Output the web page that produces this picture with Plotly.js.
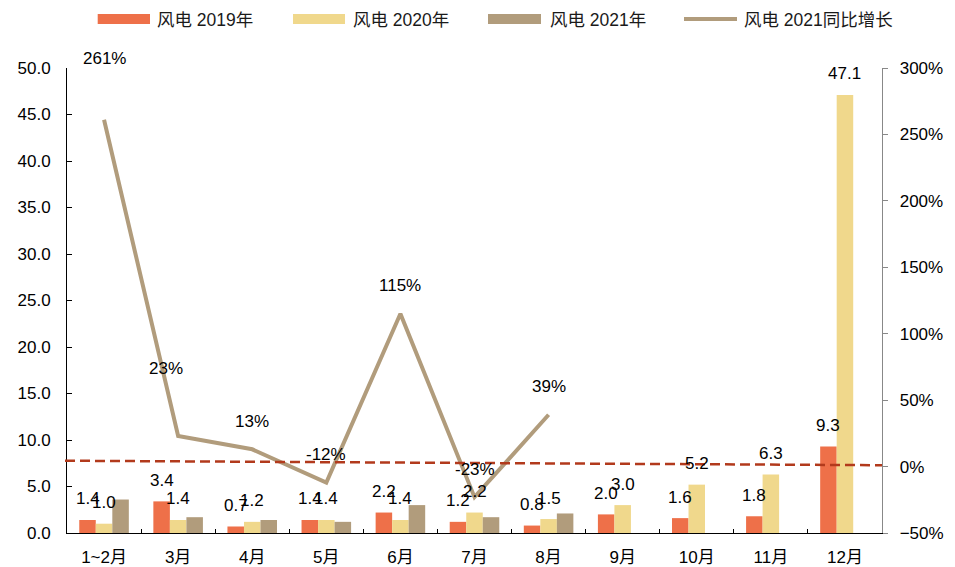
<!DOCTYPE html>
<html>
<head>
<meta charset="utf-8">
<script src="https://cdn.plot.ly/plotly-3.0.1.min.js"></script>
<style>html,body{margin:0;padding:0;background:#fff;}#chart{width:955px;height:567px;}</style>
</head>
<body>
<div id="chart"></div>
<script>
// ---- data ----
const categories = ['1~2月','3月','4月','5月','6月','7月','8月','9月','10月','11月','12月'];
const wind2019 = [1.4, 3.4, 0.7, 1.4, 2.2, 1.2, 0.8, 2.0, 1.6, 1.8, 9.3];
const wind2020 = [1.0, 1.4, 1.2, 1.4, 1.4, 2.2, 1.5, 3.0, 5.2, 6.3, 47.1];
const wind2021 = [3.6, 1.7, 1.4, 1.2, 3.0, 1.7, 2.1, null, null, null, null];
const growth2021 = [261, 23, 13, -12, 115, -23, 39];
const refLinePct = [4.4, 1.0];
const seriesNames = ['风电 2019年', '风电 2020年', '风电 2021年', '风电 2021同比增长'];

// ---- style ----
const FONT = 'Liberation Sans, Arial, "Noto Sans CJK SC", sans-serif';
const colors = ['#EE7049', '#F0D88C', '#B19C7C'];
const lineColor = '#B19C7C';
const W = 955, H = 567, M = {l: 67, r: 73, t: 68, b: 34};
const pw = W - M.l - M.r, ph = H - M.t - M.b;
const px = x => (x - M.l) / pw;
const py = y => (H - M.b - y) / ph;
const barStep = 16.5;

const traces = [
  {type: 'bar', name: seriesNames[0], x: categories, y: wind2019, marker: {color: colors[0]}},
  {type: 'bar', name: seriesNames[1], x: categories, y: wind2020, marker: {color: colors[1]}},
  {type: 'bar', name: seriesNames[2], x: categories, y: wind2021, marker: {color: colors[2]}},
  {type: 'scatter', mode: 'lines', name: seriesNames[3], x: categories.slice(0, growth2021.length),
   y: growth2021, yaxis: 'y2', line: {color: lineColor, width: 4}}
];

const annotations = [];
const labFont = {family: FONT, size: 17, color: '#000'};
[wind2019, wind2020].forEach((arr, si) => {
  arr.forEach((v, i) => {
    if (v == null) return;
    annotations.push({x: categories[i], y: v, xref: 'x', yref: 'y', text: v.toFixed(1),
      showarrow: false, xshift: (si - 1) * barStep, yshift: 21, yanchor: 'middle', font: labFont});
  });
});
const pctNudge = {0: {dx: 0, dy: 61}, 1: {dx: -12, dy: 68}};
growth2021.forEach((v, i) => {
  const n = pctNudge[i] || {dx: 0, dy: 28};
  annotations.push({x: categories[i], y: v, xref: 'x', yref: 'y2', text: v + '%',
    showarrow: false, xshift: n.dx, yshift: n.dy, yanchor: 'middle', font: labFont});
});

// custom legend
const legSw = [[97.7, 150], [293, 345], [488, 541]];
const legTxt = [155, 351, 548, 742];
const shapes = [];
legSw.forEach((s, i) => {
  shapes.push({type: 'rect', xref: 'paper', yref: 'paper', x0: px(s[0]), x1: px(s[1]),
    y0: py(24), y1: py(14), fillcolor: colors[i], line: {width: 0}});
});
shapes.push({type: 'line', xref: 'paper', yref: 'paper', x0: px(684), x1: px(737), y0: py(19), y1: py(19),
  line: {color: lineColor, width: 4}});
seriesNames.forEach((t, i) => {
  annotations.push({xref: 'paper', yref: 'paper', x: px(legTxt[i]), y: py(19.5), text: t, showarrow: false,
    xanchor: 'left', yanchor: 'middle', font: {family: FONT, size: 17.5, color: '#1a1a1a'}});
});
// reference dashed line
shapes.push({type: 'line', xref: 'paper', yref: 'y2', x0: px(65), x1: 1, y0: refLinePct[0], y1: refLinePct[1],
  line: {color: '#B23A1C', width: 2.5, dash: '10px,5px'}, layer: 'above'});

const layout = {
  width: W, height: H, margin: M, paper_bgcolor: '#fff', plot_bgcolor: '#fff',
  showlegend: false, barmode: 'group', bargap: 0.331, bargroupgap: 0,
  font: {family: FONT, size: 17, color: '#000'},
  xaxis: {type: 'category', showline: true, linecolor: '#000', linewidth: 1.3, ticks: 'inside',
    tickson: 'boundaries', ticklen: 4, tickcolor: '#000', showgrid: false, zeroline: false,
    tickfont: {family: FONT, size: 17, color: '#000'}, ticklabelstandoff: 8},
  yaxis: {range: [0, 50], dtick: 5, tickformat: '.1f', showline: true, linecolor: '#000', linewidth: 1,
    ticks: 'inside', ticklen: 5, tickcolor: '#000', showgrid: false, zeroline: false,
    tickfont: {family: FONT, size: 17, color: '#000'}, ticklabelstandoff: 12},
  yaxis2: {overlaying: 'y', side: 'right', range: [-50, 300], dtick: 50, ticksuffix: '%',
    showline: true, linecolor: '#888', linewidth: 1.3, ticks: 'outside', ticklen: 5, tickcolor: '#888',
    showgrid: false, zeroline: false, tickfont: {family: FONT, size: 17, color: '#000'}, ticklabelstandoff: 8},
  annotations: annotations, shapes: shapes
};

Plotly.newPlot('chart', traces, layout, {staticPlot: true, displayModeBar: false});
</script>
</body>
</html>
